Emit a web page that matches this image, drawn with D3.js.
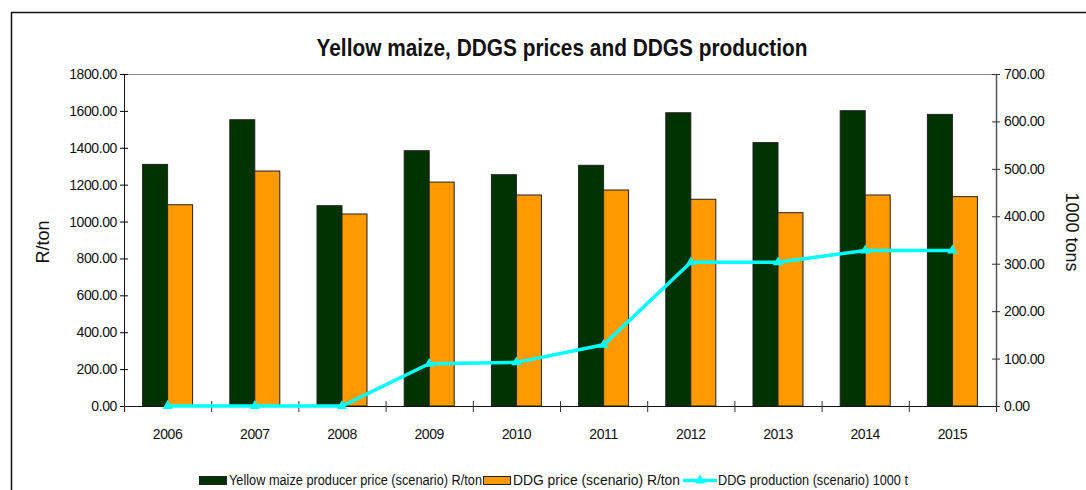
<html lang='en'>
<head>
<meta charset='UTF-8'>
<script src='https://d3js.org/d3.v7.min.js'></script>
<style>
  body { margin: 0; padding: 0; background: white; }
  text { font-family: 'Liberation Sans', Arial, sans-serif; fill: #111; }
</style>
</head>
<body>
<div id='chart'></div>
<script>
var years = ['2006','2007','2008','2009','2010','2011','2012','2013','2014','2015'];
var maizePrice = [1310, 1552, 1086, 1384, 1254, 1305, 1590, 1428, 1601, 1581];
var ddgPrice = [1091, 1274, 1041, 1214, 1144, 1171, 1121, 1048, 1144, 1135];
var ddgProduction = [0, 0, 0, 89, 92, 129, 303, 303, 328, 328];
var leftTicks = [0, 200, 400, 600, 800, 1000, 1200, 1400, 1600, 1800];
var rightTicks = [0, 100, 200, 300, 400, 500, 600, 700];
var seriesNames = ['Yellow maize producer price (scenario) R/ton', 'DDG price (scenario) R/ton', 'DDG production (scenario) 1000 t'];

var W = 1086, H = 490;
var pL = 124, pR = 996, pT = 74, pB = 406;

var svg = d3.select('#chart').append('svg')
   .attr('width', W).attr('height', H);

// outer frame
svg.append('rect')
   .attr('x', 11.5).attr('y', 12.5)
   .attr('width', W).attr('height', H)
   .attr('fill', 'none').attr('stroke', '#111').attr('stroke-width', 1.5);

svg.append('text')
   .attr('x', 562).attr('y', 56)
   .attr('text-anchor', 'middle')
   .attr('font-size', '24px').attr('font-weight', 'bold')
   .attr('textLength', 491).attr('lengthAdjust', 'spacingAndGlyphs')
   .text('Yellow maize, DDGS prices and DDGS production');

var x = d3.scaleBand().domain(years).range([pL, pR]).paddingInner(0).paddingOuter(0);
var xb = d3.scaleLinear().domain([0, years.length]).range([pL, pR]);
var y = d3.scaleLinear().domain([0, 1800]).range([pB, pT]);
var y2 = d3.scaleLinear().domain([0, 700]).range([pB, pT]);
var barW = 25;

// plot top frame
svg.append('line')
   .attr('x1', pL).attr('x2', pR).attr('y1', pT + 0.5).attr('y2', pT + 0.5)
   .attr('stroke', '#888').attr('stroke-width', 1);

// bars
var g = svg.append('g');
g.selectAll('rect.maize').data(years).enter().append('rect')
   .attr('class', 'maize')
   .attr('x', function(d) { return x(d) + x.bandwidth() / 2 - barW; })
   .attr('y', function(d, i) { return y(maizePrice[i]); })
   .attr('width', barW)
   .attr('height', function(d, i) { return pB - y(maizePrice[i]); })
   .attr('fill', '#003300').attr('stroke', '#222').attr('stroke-width', 1);
g.selectAll('rect.ddg').data(years).enter().append('rect')
   .attr('class', 'ddg')
   .attr('x', function(d) { return x(d) + x.bandwidth() / 2; })
   .attr('y', function(d, i) { return y(ddgPrice[i]); })
   .attr('width', barW)
   .attr('height', function(d, i) { return pB - y(ddgPrice[i]); })
   .attr('fill', '#FF9900').attr('stroke', '#222').attr('stroke-width', 1);

// axes
var yAxis = svg.append('g').attr('transform', 'translate(' + pL + ',0)')
   .call(d3.axisLeft(y).tickValues(leftTicks).tickSize(4).tickFormat(d3.format('.2f')));
yAxis.select('.domain').attr('stroke', '#111');
yAxis.selectAll('.tick line').attr('x1', 4).attr('x2', -4);
yAxis.selectAll('.tick text').attr('x', -7).attr('font-size', '14px').attr('letter-spacing', '-0.4px');

var yAxis2 = svg.append('g').attr('transform', 'translate(' + pR + ',0)')
   .call(d3.axisRight(y2).tickValues(rightTicks).tickSize(4).tickFormat(d3.format('.2f')));
yAxis2.select('.domain').attr('stroke', '#555').attr('stroke-width', 1.5)
   .attr('d', 'M0.5,' + pT + 'V' + pB);
yAxis2.selectAll('.tick line').attr('x1', -4).attr('x2', 4).attr('stroke', '#333');
yAxis2.selectAll('.tick text').attr('x', 8).attr('font-size', '14px').attr('letter-spacing', '-0.4px');

var xAxis = svg.append('g').attr('transform', 'translate(0,' + pB + ')')
   .call(d3.axisBottom(x).tickSize(0).tickPadding(0));
xAxis.select('.domain').remove();
xAxis.selectAll('.tick text').attr('dy', '33px').attr('font-size', '14px').attr('letter-spacing', '-0.4px');

var xTicks = svg.append('g').attr('transform', 'translate(0,' + pB + ')')
   .call(d3.axisBottom(xb).ticks(years.length).tickSize(6).tickFormat(''));
xTicks.select('.domain').attr('stroke', '#111').attr('stroke-width', 1.2);
xTicks.selectAll('.tick line').attr('y1', -5).attr('y2', 6).attr('stroke', '#333');

// line
var lineGen = d3.line()
   .x(function(d, i) { return x(years[i]) + x.bandwidth() / 2; })
   .y(function(d) { return y2(d); });
svg.append('path').datum(ddgProduction)
   .attr('d', lineGen)
   .attr('fill', 'none').attr('stroke', '#00FFFF').attr('stroke-width', 3.5);
svg.selectAll('path.mark').data(ddgProduction).enter().append('path')
   .attr('class', 'mark')
   .attr('transform', function(d, i) { return 'translate(' + (x(years[i]) + x.bandwidth() / 2) + ',' + y2(d) + ')'; })
   .attr('d', d3.symbol().type(d3.symbolTriangle).size(45))
   .attr('fill', '#00FFFF');

// axis titles
svg.append('text')
   .attr('transform', 'translate(49,242) rotate(-90)')
   .attr('text-anchor', 'middle').attr('font-size', '18px')
   .text('R/ton');
svg.append('text')
   .attr('transform', 'translate(1066,232) rotate(90)')
   .attr('text-anchor', 'middle').attr('font-size', '18px')
   .text('1000 tons');

// legend
var legX = [199, 483, 683];
var legTextX = [229, 513, 718];
var legTextW = [253, 167, 190];
var leg = svg.append('g');
leg.append('rect').attr('x', legX[0] + 0.5).attr('y', 476.5).attr('width', 27).attr('height', 8)
   .attr('fill', '#003300').attr('stroke', '#222');
leg.append('rect').attr('x', legX[1] + 0.5).attr('y', 476.5).attr('width', 27).attr('height', 8)
   .attr('fill', '#FF9900').attr('stroke', '#222');
leg.append('line').attr('x1', legX[2]).attr('x2', legX[2] + 34).attr('y1', 480.5).attr('y2', 480.5)
   .attr('stroke', '#00FFFF').attr('stroke-width', 3.5);
leg.append('path').attr('transform', 'translate(' + (legX[2] + 17) + ',480.5)')
   .attr('d', d3.symbol().type(d3.symbolTriangle).size(45)).attr('fill', '#00FFFF');
leg.selectAll('text').data(seriesNames).enter().append('text')
   .attr('x', function(d, i) { return legTextX[i]; })
   .attr('y', 485)
   .attr('font-size', '14px')
   .attr('textLength', function(d, i) { return legTextW[i]; })
   .attr('lengthAdjust', 'spacingAndGlyphs')
   .text(function(d) { return d; });
</script>
</body>
</html>
